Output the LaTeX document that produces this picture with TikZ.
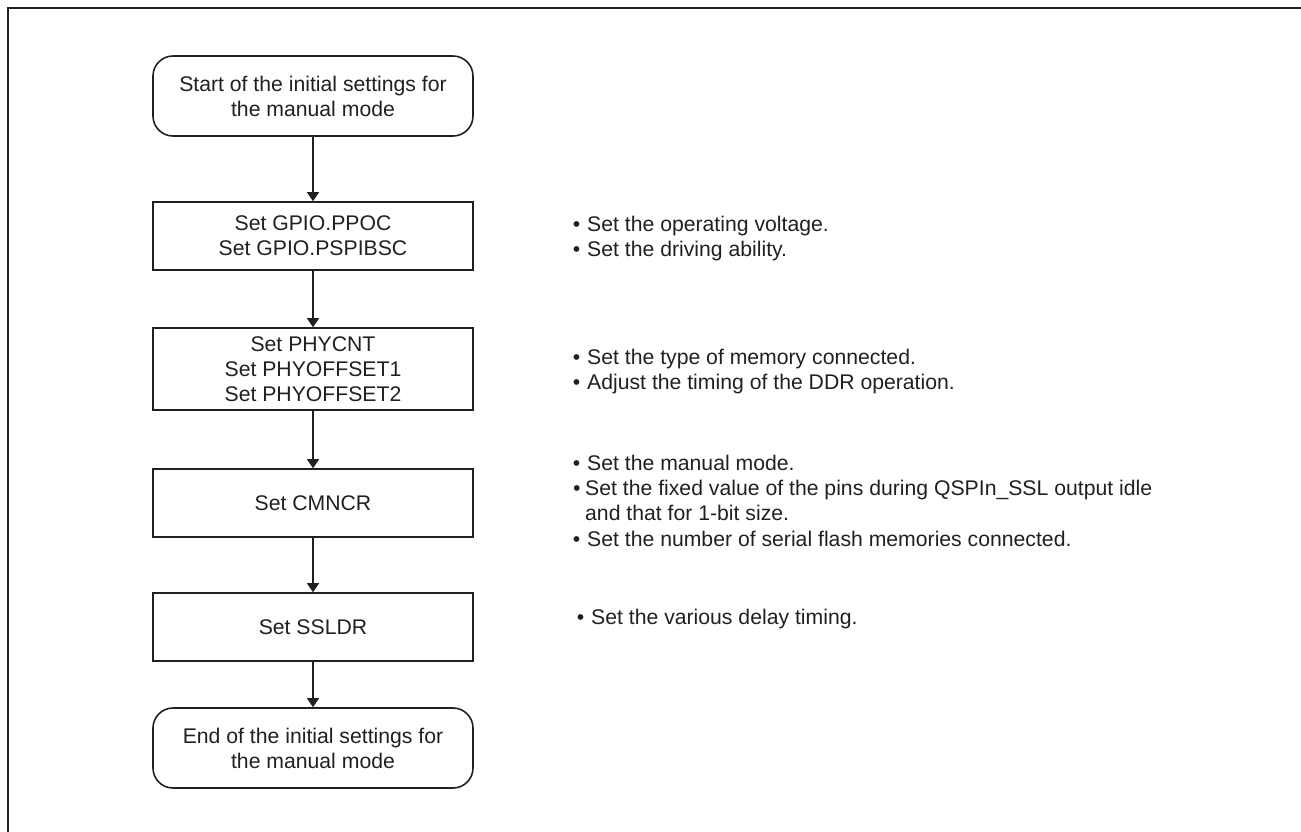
\documentclass[tikz,border=0pt]{standalone}
\usepackage{fontspec}
\setmainfont{Liberation Sans}
\usetikzlibrary{arrows.meta}
\definecolor{ink}{HTML}{231F20}
\newcommand{\bul}[1]{\llap{\textbullet\hspace{#1}}}
\begin{document}
\begin{tikzpicture}[x=1pt,y=-1pt,
  every node/.style={font=\fontsize{21.2}{25}\selectfont, text=ink},
  procbox/.style={draw=ink, line width=1.6pt, minimum width=320pt, inner sep=0pt, align=center},
  termbox/.style={procbox, rounded corners=20pt},
  flow/.style={draw=ink, line width=1.2pt, -{Triangle[width=12pt,length=9pt]}},
  note/.style={anchor=base west, inner sep=0pt}]
\useasboundingbox (0,0) rectangle (1301,831);
\clip (0,0) rectangle (1301,831);
\draw[line width=2pt, ink] (8,840) -- (8,8) -- (1310,8);

\node[termbox, minimum height=80pt] (start) at (313,96) {Start of the initial settings for\\the manual mode};
\node[procbox, minimum height=68pt] (gpio) at (313,236) {Set GPIO.PPOC\\Set GPIO.PSPIBSC};
\node[procbox, minimum height=82pt] (phy) at (313,369) {Set PHYCNT\\Set PHYOFFSET1\\Set PHYOFFSET2};
\node[procbox, minimum height=68pt] (cmncr) at (313,503) {Set CMNCR};
\node[procbox, minimum height=68pt] (ssldr) at (313,627) {Set SSLDR};
\node[termbox, minimum height=80pt] (stop) at (313,748) {End of the initial settings for\\the manual mode};

\draw[flow] (start) -- (gpio);
\draw[flow] (gpio) -- (phy);
\draw[flow] (phy) -- (cmncr);
\draw[flow] (cmncr) -- (ssldr);
\draw[flow] (ssldr) -- (stop);

\node[note] (g1a) at (587,231.8) {\bul{7pt}Set the operating voltage.};
\node[note] (g1b) at (587,256.8) {\bul{7pt}Set the driving ability.};

\node[note] (g2a) at (587,364.2) {\bul{7pt}Set the type of memory connected.};
\node[note] (g2b) at (587,389.2) {\bul{7pt}Adjust the timing of the DDR operation.};

\node[note] (g3a) at (587,470.2) {\bul{7pt}Set the manual mode.};
\node[note] (g3b) at (585,495.8) {\bul{4.6pt}\makebox[567pt][s]{Set the fixed value of the pins during QSPIn\_SSL output idle}};
\node[note] (g3c) at (585,520.8) {and that for 1-bit size.};
\node[note] (g3d) at (587,546.5) {\bul{7pt}Set the number of serial flash memories connected.};

\node[note] (g4a) at (591,624.2) {\bul{7pt}Set the various delay timing.};
\end{tikzpicture}
\end{document}
